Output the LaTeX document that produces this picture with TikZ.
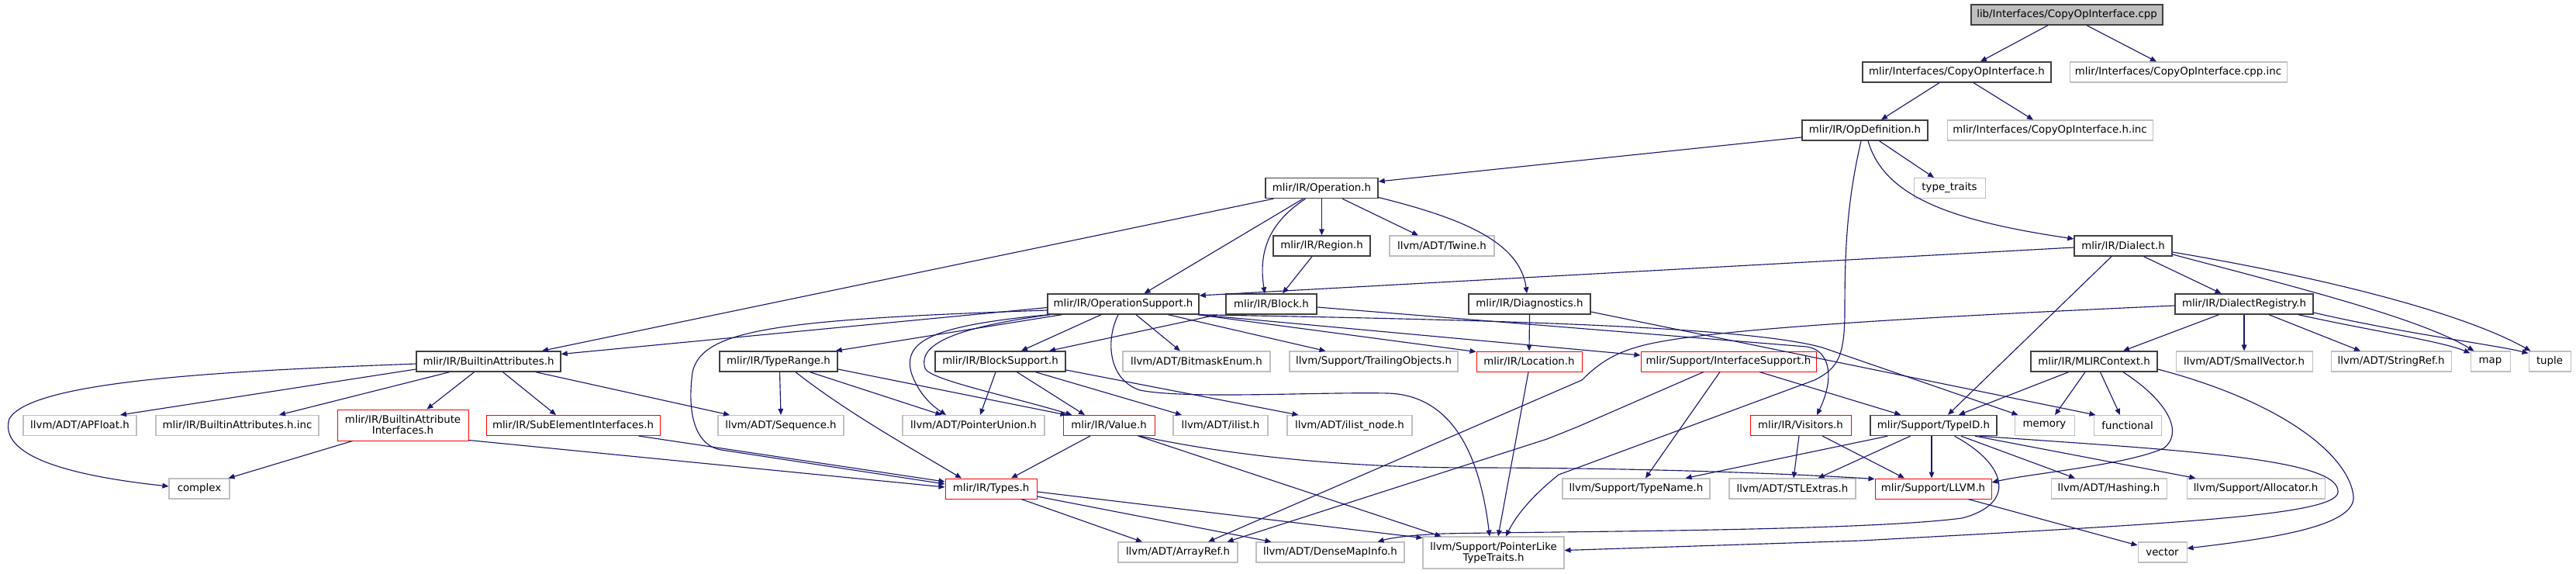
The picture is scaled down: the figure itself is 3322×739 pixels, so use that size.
\documentclass[tikz,border=0pt]{standalone}
\usepackage{fontspec}
\setmainfont{DejaVu Sans}
\usetikzlibrary{arrows.meta}
\definecolor{edgeblue}{HTML}{191970}
\definecolor{extgray}{HTML}{BFBFBF}
\definecolor{docborder}{HTML}{404040}
\definecolor{trred}{HTML}{FF0000}
\newcommand{\dvs}{\fontsize{10pt}{10.5pt}\selectfont}
\tikzset{
  nbox/.style={rectangle, inner sep=0pt, font=\dvs, minimum height=19.5pt, align=center},
  docnode/.style={nbox, draw=docborder, line width=1.05pt},
  extnode/.style={nbox, draw=extgray, line width=0.8pt},
  trunc/.style={nbox, draw=trred, line width=0.75pt},
  topnode/.style={nbox, draw=docborder, fill=extgray, line width=1.05pt},
  conn/.style={draw=edgeblue, line width=0.85pt, -{Triangle[length=6pt,width=5pt]}}
}
\begin{document}
\begin{tikzpicture}[x=0.75pt,y=-0.75pt]
\useasboundingbox (0,0) rectangle (3322,739);
% row 1-5
\node[topnode, minimum width=247*0.75pt] (cpp) at (2665.5,19) {lib/Interfaces/CopyOpInterface.cpp};
\node[docnode, minimum width=243*0.75pt] (copyh) at (2523.5,93) {mlir/Interfaces/CopyOpInterface.h};
\node[extnode, minimum width=280*0.75pt] (cppinc) at (2809,93) {mlir/Interfaces/CopyOpInterface.cpp.inc};
\node[extnode, minimum width=265*0.75pt] (hinc) at (2643.5,168) {mlir/Interfaces/CopyOpInterface.h.inc};
\node[docnode, minimum width=162*0.75pt] (opdef) at (2405,168) {mlir/IR/OpDefinition.h};
\node[extnode, minimum width=92*0.75pt] (typetraits) at (2514,242.5) {type\_traits};
\node[docnode, minimum width=145*0.75pt] (operation) at (1704.5,242.5) {mlir/IR/Operation.h};
\node[docnode, minimum width=125*0.75pt] (region) at (1704.5,317) {mlir/IR/Region.h};
\node[extnode, minimum width=135*0.75pt] (twine) at (1859.5,317) {llvm/ADT/Twine.h};
\node[docnode, minimum width=126*0.75pt] (dialect) at (2738,317) {mlir/IR/Dialect.h};
% row 6
\node[docnode, minimum width=195*0.75pt] (opsupport) at (1448.5,392) {mlir/IR/OperationSupport.h};
\node[docnode, minimum width=117*0.75pt] (block) at (1639.5,392) {mlir/IR/Block.h};
\node[docnode, minimum width=157*0.75pt] (diagnostics) at (1972.5,392) {mlir/IR/Diagnostics.h};
\node[docnode, minimum width=178*0.75pt] (dialectreg) at (2894,392) {mlir/IR/DialectRegistry.h};
% row 7
\node[docnode, minimum width=186*0.75pt] (builtinattr) at (630,466) {mlir/IR/BuiltinAttributes.h};
\node[docnode, minimum width=152*0.75pt] (typerange) at (1004,466) {mlir/IR/TypeRange.h};
\node[docnode, minimum width=168*0.75pt] (blocksupport) at (1290,466) {mlir/IR/BlockSupport.h};
\node[extnode, minimum width=190*0.75pt] (bitmask) at (1543,466) {llvm/ADT/BitmaskEnum.h};
\node[extnode, minimum width=217*0.75pt] (trailing) at (1771.5,466) {llvm/Support/TrailingObjects.h};
\node[trunc, minimum width=136*0.75pt] (location) at (1972,466) {mlir/IR/Location.h};
\node[trunc, minimum width=226*0.75pt] (interfacesupport) at (2229,466) {mlir/Support/InterfaceSupport.h};
\node[docnode, minimum width=163*0.75pt] (mlircontext) at (2700.5,466) {mlir/IR/MLIRContext.h};
\node[extnode, minimum width=176*0.75pt] (smallvector) at (2894,466) {llvm/ADT/SmallVector.h};
\node[extnode, minimum width=155*0.75pt] (stringref) at (3083.5,466) {llvm/ADT/StringRef.h};
\node[extnode, minimum width=51*0.75pt] (map) at (3211.5,466) {map};
\node[extnode, minimum width=54*0.75pt] (tuple) at (3288,466) {tuple};
% row 8
\node[extnode, minimum width=146*0.75pt] (apfloat) at (103,548.5) {llvm/ADT/APFloat.h};
\node[extnode, minimum width=210*0.75pt] (bainc) at (306,548.5) {mlir/IR/BuiltinAttributes.h.inc};
\node[trunc, minimum width=169*0.75pt, minimum height=30pt] (bainterfaces) at (519.5,548) {mlir/IR/BuiltinAttribute\\Interfaces.h};
\node[trunc, minimum width=224*0.75pt] (subelem) at (739,548.5) {mlir/IR/SubElementInterfaces.h};
\node[extnode, minimum width=162*0.75pt] (sequence) at (1007,548.5) {llvm/ADT/Sequence.h};
\node[extnode, minimum width=183*0.75pt] (pointerunion) at (1255.5,548.5) {llvm/ADT/PointerUnion.h};
\node[trunc, minimum width=118*0.75pt] (value) at (1430,548.5) {mlir/IR/Value.h};
\node[extnode, minimum width=122*0.75pt] (ilist) at (1574,548.5) {llvm/ADT/ilist.h};
\node[extnode, minimum width=161*0.75pt] (ilistnode) at (1740.5,548.5) {llvm/ADT/ilist\_node.h};
\node[trunc, minimum width=130*0.75pt] (visitors) at (2322,548.5) {mlir/IR/Visitors.h};
\node[docnode, minimum width=163*0.75pt] (typeid) at (2493.5,548.5) {mlir/Support/TypeID.h};
\node[extnode, minimum width=77*0.75pt] (memory) at (2636.5,548.5) {memory};
\node[extnode, minimum width=87*0.75pt] (functional) at (2743.5,548.5) {functional};
% row 9
\node[extnode, minimum width=78*0.75pt] (complex) at (257,630) {complex};
\node[trunc, minimum width=118*0.75pt] (types) at (1278,630) {mlir/IR/Types.h};
\node[extnode, minimum width=190*0.75pt] (typename) at (2110,630) {llvm/Support/TypeName.h};
\node[extnode, minimum width=163*0.75pt] (stlextras) at (2311.5,630) {llvm/ADT/STLExtras.h};
\node[trunc, minimum width=150*0.75pt] (llvmh) at (2493,630) {mlir/Support/LLVM.h};
\node[extnode, minimum width=149*0.75pt] (hashing) at (2719.5,630) {llvm/ADT/Hashing.h};
\node[extnode, minimum width=178*0.75pt] (allocator) at (2909,630) {llvm/Support/Allocator.h};
% row 10
\node[extnode, minimum width=154*0.75pt] (arrayref) at (1519,712) {llvm/ADT/ArrayRef.h};
\node[extnode, minimum width=191*0.75pt] (densemap) at (1715.5,712) {llvm/ADT/DenseMapInfo.h};
\node[extnode, minimum width=182*0.75pt, minimum height=30.75pt] (pltt) at (1926,712.5) {llvm/Support/PointerLike\\TypeTraits.h};
\node[extnode, minimum width=63*0.75pt] (vector) at (2788.5,712) {vector};

% edges
\draw[conn] ([shift={(-24.5,0)}]cpp.south) -- ([shift={(30.5,0)}]copyh.north);
\draw[conn] ([shift={(25.5,0)}]cpp.south) -- ([shift={(-28,0)}]cppinc.north);
\draw[conn] ([shift={(-22.5,0)}]copyh.south) -- ([shift={(21,0)}]opdef.north);
\draw[conn] ([shift={(21.5,0)}]copyh.south) -- ([shift={(-21.5,0)}]hinc.north);
\draw[conn] ([shift={(0,9)}]opdef.west) -- ([shift={(0,-8.5)}]operation.east);
\draw[conn] ([shift={(18.5,0)}]opdef.south) -- ([shift={(-20,0)}]typetraits.north);
\draw[conn] ([shift={(4,0)}]opdef.south) .. controls (2430,255) and (2520,285) .. ([shift={(0,-9)}]dialect.west);
\draw[conn] ([shift={(-5,0)}]opdef.south) .. controls (2382,260) and (2379,320) .. (2379,400) .. controls (2379,460) and (2370,475) .. (2340,490) -- (2010,612) .. controls (1975,640) and (1955,665) .. ([shift={(16,0)}]pltt.north);
\draw[conn] ([shift={(11,0)}]operation.south west) -- ([shift={(69,0)}]builtinattr.north);
\draw[conn] ([shift={(-24,0)}]operation.south) -- ([shift={(27,0)}]opsupport.north);
\draw[conn] ([shift={(-21,0)}]operation.south) .. controls (1640,285) and (1622,320) .. ([shift={(-8.5,0)}]block.north);
\draw[conn] (operation.south) -- (region.north);
\draw[conn] ([shift={(26.5,0)}]operation.south) -- ([shift={(-30.5,0)}]twine.north);
\draw[conn] ([shift={(0,12)}]operation.east) .. controls (1880,280) and (1960,310) .. ([shift={(-3.5,0)}]diagnostics.north);
\draw[conn] ([shift={(-12.5,0)}]region.south) -- ([shift={(14.5,0)}]block.north);
\draw[conn] ([shift={(-69.5,0)}]block.south) -- ([shift={(63,0)}]blocksupport.north);
\draw[conn] ([shift={(0,4)}]block.east) -- (2330,447) .. controls (2362,452) and (2365,490) .. ([shift={(21,0)}]visitors.north);
\draw[conn] ([shift={(0,2)}]dialect.west) -- ([shift={(0,-11)}]opsupport.east);
\draw[conn] ([shift={(-15,0)}]dialect.south) -- ([shift={(18.5,0)}]typeid.north);
\draw[conn] ([shift={(26.5,0)}]dialect.south) -- ([shift={(-29.5,0)}]dialectreg.north);
\draw[conn] ([shift={(0,11)}]dialect.east) .. controls (2960,370) and (3120,410) .. ([shift={(5,0)}]map.north west);
\draw[conn] ([shift={(0,8)}]dialect.east) .. controls (2980,355) and (3170,400) .. ([shift={(3,0)}]tuple.north west);
\draw[conn] ([shift={(-32.5,0)}]dialectreg.south) -- ([shift={(37.5,0)}]mlircontext.north);
\draw[conn] (dialectreg.south) -- (smallvector.north);
\draw[conn] ([shift={(32,0)}]dialectreg.south) -- ([shift={(-39.5,0)}]stringref.north);
\draw[conn] ([shift={(70,0)}]dialectreg.south) .. controls (3050,425) and (3150,440) .. ([shift={(0,3)}]map.north west);
\draw[conn] ([shift={(0,11)}]dialectreg.east) .. controls (3100,430) and (3220,445) .. ([shift={(0,3)}]tuple.north west);
\draw[conn] ([shift={(0,2)}]dialectreg.west) .. controls (2450,410) and (2200,425) .. (2120,445) .. controls (2080,455) and (2060,470) .. (2040,490) -- ([shift={(39,0)}]arrayref.north);
\draw[conn] ([shift={(-33,0)}]mlircontext.south) -- ([shift={(32.5,0)}]typeid.north);
\draw[conn] ([shift={(-11.5,0)}]mlircontext.south) -- ([shift={(13.5,0)}]memory.north);
\draw[conn] ([shift={(8,0)}]mlircontext.south) -- ([shift={(-9.5,0)}]functional.north);
\draw[conn] ([shift={(37.5,0)}]mlircontext.south) .. controls (2800,520) and (2815,560) .. (2790,578) .. controls (2740,600) and (2620,610) .. ([shift={(0,-8)}]llvmh.east);
\draw[conn] ([shift={(0,10)}]mlircontext.east) .. controls (2950,520) and (3030,590) .. (3035,640) .. controls (3038,680) and (2920,695) .. ([shift={(0,-5)}]vector.east);
\draw[conn] ([shift={(0,4.5)}]opsupport.west) -- ([shift={(0,-9.5)}]builtinattr.east);
\draw[conn] ([shift={(0,8)}]opsupport.west) .. controls (1000,412) and (905,425) .. (893,480) .. controls (885,540) and (900,575) .. (930,580) -- ([shift={(0,-6)}]types.west);
\draw[conn] ([shift={(19,0)}]opsupport.south west) -- ([shift={(-3,0)}]typerange.north east);
\draw[conn] ([shift={(-28.5,0)}]opsupport.south) -- ([shift={(27,0)}]blocksupport.north);
\draw[conn] ([shift={(2,0)}]opsupport.south west) .. controls (1200,420) and (1165,440) .. (1175,480) .. controls (1185,510) and (1205,525) .. ([shift={(-35.5,0)}]pointerunion.north);
\draw[conn] ([shift={(4,0)}]opsupport.south west) .. controls (1210,425) and (1185,450) .. (1193,475) .. controls (1200,490) and (1300,510) .. ([shift={(12,0)}]value.north west);
\draw[conn] ([shift={(-6.5,0)}]opsupport.south) .. controls (1425,440) and (1430,490) .. (1470,503) .. controls (1530,515) and (1700,505) .. (1790,507) .. controls (1880,510) and (1910,600) .. ([shift={(-5,0)}]pltt.north);
\draw[conn] ([shift={(16.5,0)}]opsupport.south) -- ([shift={(-21,0)}]bitmask.north);
\draw[conn] ([shift={(58,0)}]opsupport.south) -- ([shift={(-62,0)}]trailing.north);
\draw[conn] ([shift={(-2,0)}]opsupport.south east) -- ([shift={(0,1)}]location.north west);
\draw[conn] ([shift={(-1,0)}]opsupport.south east) -- ([shift={(0,-8)}]interfacesupport.west);
\draw[conn] (opsupport.south east) .. controls (1900,412) and (2250,420) .. (2350,448) -- ([shift={(5,0)}]memory.north west);
\draw[conn] (diagnostics.south) -- (location.north);
\draw[conn] ([shift={(0,10)}]diagnostics.east) -- ([shift={(3,0)}]functional.north west);
\draw[conn] ([shift={(0,3)}]builtinattr.west) .. controls (300,478) and (40,490) .. (12,540) .. controls (0,580) and (60,610) .. ([shift={(0,-3)}]complex.west);
\draw[conn] ([shift={(0,10)}]builtinattr.west) -- ([shift={(52,0)}]apfloat.north);
\draw[conn] ([shift={(-50.5,0)}]builtinattr.south) -- ([shift={(54,0)}]bainc.north);
\draw[conn] ([shift={(-18.5,0)}]builtinattr.south) -- ([shift={(31,0)}]bainterfaces.north);
\draw[conn] ([shift={(18.5,0)}]builtinattr.south) -- ([shift={(-22,0)}]subelem.north);
\draw[conn] ([shift={(61,0)}]builtinattr.south) -- ([shift={(-66,0)}]sequence.north);
\draw[conn] ([shift={(-65,0)}]bainterfaces.south) -- ([shift={(-2,0)}]complex.north east);
\draw[conn] ([shift={(0,-1)}]bainterfaces.south east) -- ([shift={(0,-2)}]types.west);
\draw[conn] ([shift={(-28,0)}]subelem.south east) -- ([shift={(0,-9)}]types.west);
\draw[conn] ([shift={(1.5,0)}]typerange.south) -- (sequence.north);
\draw[conn] ([shift={(22,0)}]typerange.south) .. controls (1090,530) and (1170,575) .. ([shift={(-38,0)}]types.north);
\draw[conn] ([shift={(40.5,0)}]typerange.south) -- ([shift={(-41,0)}]pointerunion.north);
\draw[conn] ([shift={(0,10)}]typerange.east) -- ([shift={(5,0)}]value.north west);
\draw[conn] ([shift={(-6,0)}]blocksupport.south) -- ([shift={(8.5,0)}]pointerunion.north);
\draw[conn] ([shift={(21.5,0)}]blocksupport.south) -- ([shift={(-31,0)}]value.north);
\draw[conn] ([shift={(45.5,0)}]blocksupport.south) -- ([shift={(-50,0)}]ilist.north);
\draw[conn] ([shift={(0,11)}]blocksupport.east) -- ([shift={(15,0)}]ilistnode.north west);
\draw[conn] ([shift={(-24,0)}]value.south) -- ([shift={(26,0)}]types.north);
\draw[conn] ([shift={(-20,0)}]value.south east) .. controls (1600,590) and (1750,603) .. (1900,603) .. controls (2100,603) and (2300,610) .. ([shift={(0,1)}]llvmh.north west);
\draw[conn] ([shift={(-22,0)}]value.south east) -- ([shift={(24,0)}]pltt.north west);
\draw[conn] ([shift={(39,0)}]types.south) -- ([shift={(-46,0)}]arrayref.north);
\draw[conn] ([shift={(0,10)}]types.east) -- ([shift={(20,0)}]densemap.north west);
\draw[conn] ([shift={(0,4)}]types.east) -- ([shift={(0,2)}]pltt.north west);
\draw[conn] ([shift={(-1,0)}]location.south) -- ([shift={(6,0)}]pltt.north);
\draw[conn] ([shift={(-32,0)}]interfacesupport.south) -- (2035,550) .. controls (2015,558) .. (1995,566) -- ([shift={(-14,0)}]arrayref.north east);
\draw[conn] ([shift={(-11,0)}]interfacesupport.south) -- ([shift={(12,0)}]typename.north);
\draw[conn] ([shift={(40,0)}]interfacesupport.south) -- ([shift={(40,0)}]typeid.north west);
\draw[conn] ([shift={(-2,0)}]visitors.south) -- ([shift={(1.5,0)}]stlextras.north);
\draw[conn] ([shift={(28,0)}]visitors.south) -- ([shift={(-37,0)}]llvmh.north);
\draw[conn] ([shift={(-30,0)}]typeid.south) -- ([shift={(33,0)}]stlextras.north);
\draw[conn] ([shift={(23,0)}]typeid.south west) -- ([shift={(-32,0)}]typename.north east);
\draw[conn] ([shift={(-2.5,0)}]typeid.south) -- ([shift={(-2,0)}]llvmh.north);
\draw[conn] ([shift={(27,0)}]typeid.south) .. controls (2590,600) and (2600,650) .. (2530,668) .. controls (2400,685) and (2000,685) .. (1860,688) .. controls (1820,690) and (1795,693) .. ([shift={(-35,0)}]densemap.north east);
\draw[conn] ([shift={(35.5,0)}]typeid.south) -- ([shift={(-43.5,0)}]hashing.north);
\draw[conn] ([shift={(53.5,0)}]typeid.south) -- ([shift={(12,0)}]allocator.north west);
\draw[conn] ([shift={(59.5,0)}]typeid.south) .. controls (2800,580) and (3020,590) .. (3015,635) .. controls (3010,665) and (2800,675) .. (2400,697) -- ([shift={(0,-3)}]pltt.east);
\draw[conn] ([shift={(45,0)}]llvmh.south) -- ([shift={(0,-9)}]vector.west);
\end{tikzpicture}
\end{document}
